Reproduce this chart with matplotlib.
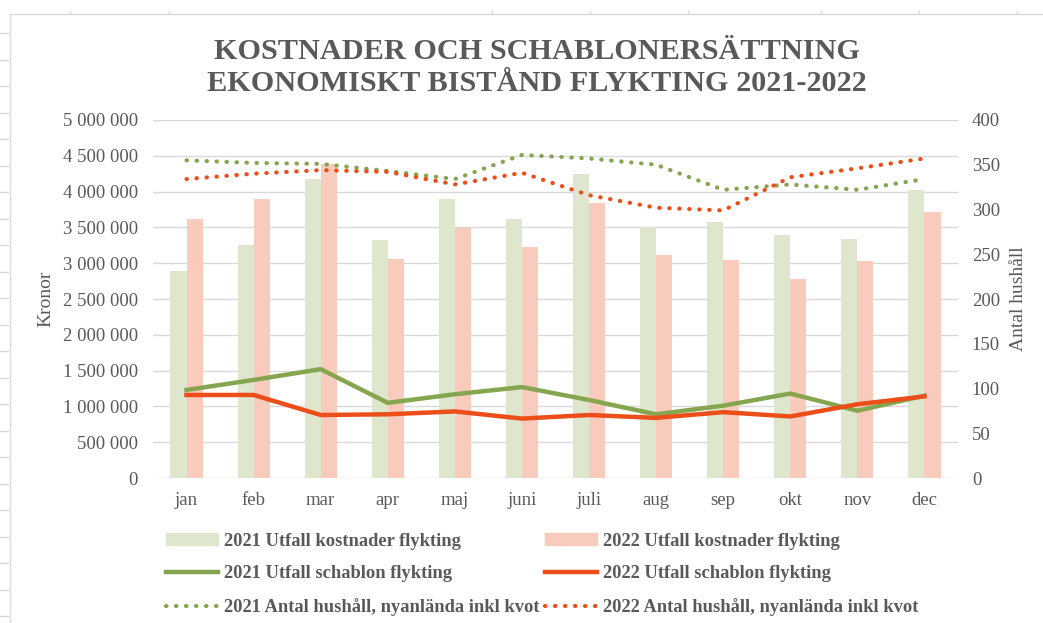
import numpy as np
import matplotlib
matplotlib.use("Agg")
import matplotlib.pyplot as plt
from matplotlib.lines import Line2D
from matplotlib.patches import Patch
from matplotlib.ticker import FuncFormatter, MultipleLocator

plt.rcParams['font.family'] = ['Liberation Serif', 'DejaVu Serif']

months = ['jan', 'feb', 'mar', 'apr', 'maj', 'juni', 'juli', 'aug', 'sep', 'okt', 'nov', 'dec']

# kostnader (kronor)
kost_2021 = [2890000, 3260000, 4180000, 3320000, 3890000, 3620000,
             4250000, 3510000, 3570000, 3390000, 3340000, 4020000]
kost_2022 = [3620000, 3900000, 4380000, 3060000, 3490000, 3230000,
             3840000, 3110000, 3040000, 2780000, 3030000, 3720000]

# schablon (kronor)
schab_2021 = [1230000, 1370000, 1520000, 1050000, 1170000, 1270000,
              1090000, 890000, 1010000, 1180000, 940000, 1150000]
schab_2022 = [1160000, 1160000, 880000, 890000, 930000, 830000,
              880000, 840000, 920000, 860000, 1030000, 1140000]

# antal hushall (hoger axel)
hush_2021 = [355, 352, 351, 343, 334, 361, 357, 350, 322, 328, 322, 334]
hush_2022 = [334, 340, 344, 342, 328, 341, 316, 302, 299, 336, 346, 357]

grey = '#595959'
c_bar21 = '#DEE6CE'
c_bar22 = '#F8CBBD'
c_line21 = '#86A54F'
c_line22 = '#EC4E1A'

fig = plt.figure(figsize=(10.43, 6.23), dpi=100)
ax = fig.add_axes([0.1467, 0.2327, 0.9185 - 0.1467, 0.8074 - 0.2327])
ax2 = ax.twinx()

x = np.arange(len(months))
w = 0.24
ax.bar(x - w / 2, kost_2021, w, color=c_bar21, zorder=2)
ax.bar(x + w / 2, kost_2022, w, color=c_bar22, zorder=2)
ax.plot(x, schab_2021, color=c_line21, lw=3.2, zorder=3, solid_joinstyle='round')
ax.plot(x, schab_2022, color=c_line22, lw=3.2, zorder=3, solid_joinstyle='round')

dots = (0, (0.1, 2.3))
ax2.plot(x, hush_2021, color=c_line21, lw=3, linestyle=dots, dash_capstyle='round')
ax2.plot(x, hush_2022, color=c_line22, lw=3, linestyle=dots, dash_capstyle='round')

ax.set_xlim(-0.5, 11.5)
ax.set_ylim(0, 5000000)
ax2.set_ylim(0, 400)
ax.yaxis.set_major_locator(MultipleLocator(500000))
ax2.yaxis.set_major_locator(MultipleLocator(50))
ax.yaxis.set_major_formatter(FuncFormatter(lambda v, p: f"{int(v):,}".replace(",", " ")))
ax.grid(axis='y', color='#D9D9D9', lw=1, zorder=0)
ax.set_axisbelow(True)

ax.set_xticks(x)
ax.set_xticklabels(months)
for a in (ax, ax2):
    for s in a.spines.values():
        s.set_visible(False)
    a.tick_params(length=0, colors=grey, labelsize=13.5)
ax.tick_params(axis='x', pad=10)
ax.tick_params(axis='y', pad=11)
ax2.tick_params(axis='y', pad=10)

ax.set_ylabel('Kronor', color=grey, fontsize=14, labelpad=6)
ax2.set_ylabel('Antal hushåll', color=grey, fontsize=14, labelpad=7)

fig.text(0.515, 0.918, 'KOSTNADER OCH SCHABLONERSÄTTNING', ha='center', va='center',
         fontsize=21.8, fontweight='bold', color=grey)
fig.text(0.515, 0.866, 'EKONOMISKT BISTÅND FLYKTING 2021-2022', ha='center', va='center',
         fontsize=21.8, fontweight='bold', color=grey)

handles = [
    Patch(color=c_bar21), Line2D([], [], color=c_line21, lw=3.2),
    Line2D([], [], color=c_line21, lw=3, linestyle=dots, dash_capstyle='round'),
    Patch(color=c_bar22), Line2D([], [], color=c_line22, lw=3.2),
    Line2D([], [], color=c_line22, lw=3, linestyle=dots, dash_capstyle='round'),
]
labels = ['2021 Utfall kostnader flykting', '2021 Utfall schablon flykting',
          '2021 Antal hushåll, nyanlända inkl kvot',
          '2022 Utfall kostnader flykting', '2022 Utfall schablon flykting',
          '2022 Antal hushåll, nyanlända inkl kvot']
leg = fig.legend(handles, labels, ncol=2, loc='upper left', bbox_to_anchor=(0.152, 0.157),
                 frameon=False, handlelength=2.8, handleheight=0.6, handletextpad=0.35,
                 columnspacing=0.3, labelspacing=0.85, borderaxespad=0,
                 prop={'size': 13.3, 'weight': 'bold'})
for t in leg.get_texts():
    t.set_color(grey)

# spreadsheet border
fig.add_artist(Line2D([10 / 1043, 10 / 1043], [0, 1 - 14 / 623], color='#D9D9D9', lw=1))
fig.add_artist(Line2D([10 / 1043, 1], [1 - 14 / 623, 1 - 14 / 623], color='#D9D9D9', lw=1))
for yy in np.arange(33, 623, 26.5):
    fig.add_artist(Line2D([0, 8 / 1043], [1 - yy / 623, 1 - yy / 623], color='#D9D9D9', lw=1))
for xx in [70, 169, 492, 590, 688, 821, 919, 1017]:
    fig.add_artist(Line2D([xx / 1043, xx / 1043], [1 - 14 / 623, 1 - 11 / 623], color='#D9D9D9', lw=1))

fig.savefig('out.png', dpi=100)
